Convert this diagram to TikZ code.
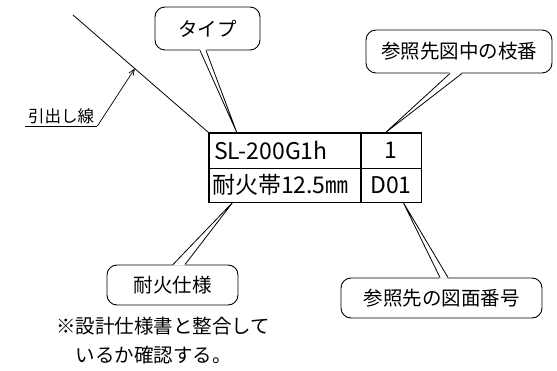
\documentclass[tikz,border=0pt]{standalone}
\usepackage{fontspec}
\setmainfont{Noto Sans CJK JP}
\usetikzlibrary{arrows.meta,calc}
\tikzset{
  line/.style={draw=black, line width=0.8pt},
  callout/.style={draw=black, line width=0.9pt, rounded corners=10pt, fill=white,
    font=\fontsize{19.5}{22}\selectfont, inner sep=0pt},
  cell/.style={draw=black, line width=0.9pt, inner sep=0pt,
    font=\fontsize{23}{25}\selectfont},
  note/.style={font=\fontsize{19.5}{29}\selectfont, align=left, inner sep=0pt},
}
\newcommand{\calloutptr}[6]{%
  \fill[white] ([xshift=#2pt,yshift=#6]#1.#5) -- (#4) -- ([xshift=#3pt,yshift=#6]#1.#5) -- cycle;
  \draw[line] ([xshift=#2pt]#1.#5) -- (#4) -- ([xshift=#3pt]#1.#5);}
\begin{document}
\begin{tikzpicture}[x=1pt,y=-1pt]
\useasboundingbox (0,0) rectangle (557,371);

% callout boxes
\node[callout, minimum width=105pt, minimum height=43pt] (type) at (207.5,28.5) {タイプ};
\node[callout, minimum width=186pt, minimum height=43pt] (branch) at (459,51.5) {参照先図中の枝番};
\node[callout, minimum width=131pt, minimum height=40pt] (fire) at (172.5,285) {耐火仕様};
\node[callout, minimum width=201pt, minimum height=40pt] (dwg) at (441.5,298) {参照先の図面番号};

% table cells
\node[cell, minimum width=152pt, minimum height=35pt, text width=142pt, align=left] (ca) at (285,150.5) {SL-200G1h};
\node[cell, minimum width=60pt, minimum height=35pt] (cb) at (391,150.5) {1};
\node[cell, minimum width=152pt, minimum height=34pt, text width=146pt, align=left] (cc) at (285,185) {耐火帯12.5㎜};
\node[cell, minimum width=60pt, minimum height=34pt] (cd) at (391,185) {D01};

% pointer tips
\coordinate (typetip) at (237,133);
\coordinate (branchtip) at (385,133);
\coordinate (firetip) at (233,202);
\coordinate (dwgtip) at (403,202);

\calloutptr{type}{-7.5}{-1.5}{typetip}{south}{1.2pt}
\calloutptr{branch}{-9}{3}{branchtip}{south}{1.2pt}
\calloutptr{fire}{0.5}{12.5}{firetip}{north}{-1.2pt}
\calloutptr{dwg}{-1.5}{6.5}{dwgtip}{north}{-1.2pt}

% redraw table borders on top
\draw[line width=0.9pt] (ca.north west) rectangle (cd.south east);
\draw[line width=0.9pt] (ca.south west) -- (cb.south east);
\draw[line width=0.9pt] (cb.north west) -- (cd.south west);

% leader line
\coordinate (leadstart) at (73,15);
\draw[line] (leadstart) -- (ca.north west);
\coordinate (leadpt) at ($(leadstart)!0.456!(ca.north west)$);

% leader label
\node[anchor=south west, inner xsep=0pt, inner ysep=2pt, minimum width=72pt,
  font=\fontsize{16.5}{18}\selectfont] (lbl) at (25,126) {引出し線};
\draw[line width=0.7pt] (lbl.south west) -- (lbl.south east);
\draw[line width=0.7pt, -{Straight Barb[length=6pt,width=5pt]}] (lbl.south east) -- (leadpt);

% note
\node[note, anchor=north west] (nt) at (56,317) {※設計仕様書と整合して\\　いるか確認する。};
\end{tikzpicture}
\end{document}
